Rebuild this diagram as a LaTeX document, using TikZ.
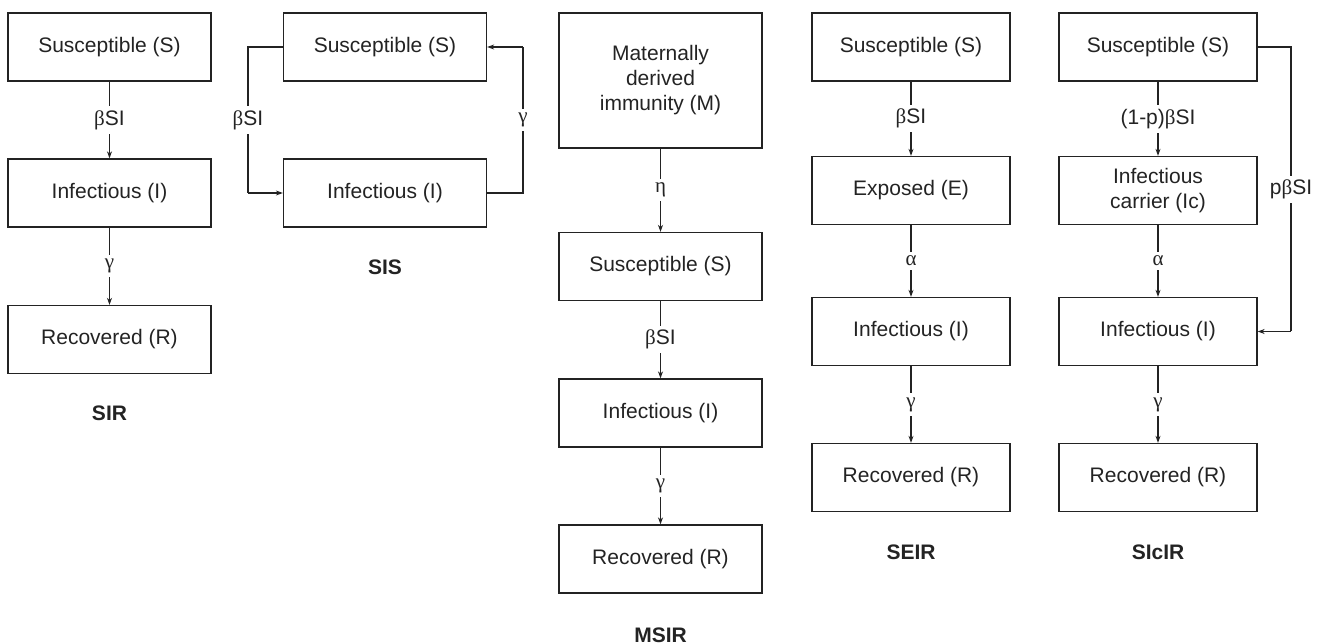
\documentclass[tikz,border=0pt]{standalone}
\usepackage{fontspec}
\setmainfont{Liberation Sans}
\newfontfamily\gkfont{Liberation Serif}
\usetikzlibrary{arrows.meta}
\newcommand{\gk}[1]{{\gkfont #1}}
\definecolor{ink}{RGB}{35,35,35}
\tikzset{
  x=1pt, y=-1pt,
  comp/.style={draw=ink, line width=1.3pt, text=ink, minimum height=68pt,
    minimum width=203pt, align=center, inner sep=0pt,
    font=\fontsize{21}{25}\selectfont},
  compn/.style={comp, minimum width=198pt},
  flow/.style={draw=ink, line width=1.05pt, -{Stealth[length=7pt,width=5pt]}},
  link/.style={draw=ink, line width=1.05pt},
  rate/.style={fill=white, text=ink, inner sep=4pt, font=\fontsize{21}{25}\selectfont},
  title/.style={text=ink, font=\fontsize{21}{25}\selectfont\bfseries},
}
\begin{document}
\begin{tikzpicture}
\useasboundingbox (0,0) rectangle (1336,644);

% SIR model
\node[comp] (sirS) at (109.5,47) {Susceptible (S)};
\node[comp] (sirI) at (109.5,193) {Infectious (I)};
\node[comp] (sirR) at (109.5,339.5) {Recovered (R)};
\draw[flow] (sirS) -- node[rate] {\gk{β}SI} (sirI);
\draw[flow] (sirI) -- node[rate] {\gk{γ}} (sirR);
\node[title] (sirT) at (109.5,413) {SIR};

% SIS model
\node[comp] (sisS) at (385,47) {Susceptible (S)};
\node[comp] (sisI) at (385,193) {Infectious (I)};
\coordinate (sisA) at (248,47);
\coordinate (sisB) at (248,193);
\coordinate (sisC) at (523,193);
\coordinate (sisD) at (523,47);
\draw[link] (sisS.west) -- (sisA) -- node[rate] {\gk{β}SI} (sisB);
\draw[flow] (sisB) -- (sisI.west);
\draw[link] (sisI.east) -- (sisC) -- node[rate] {\gk{γ}} (sisD);
\draw[flow] (sisD) -- (sisS.east);
\node[title] (sisT) at (385,267) {SIS};

% MSIR model
\node[comp, minimum height=135pt] (msM) at (660.5,80.5) {Maternally\\derived\\immunity (M)};
\node[comp] (msS) at (660.5,266.5) {Susceptible (S)};
\node[comp] (msI) at (660.5,413) {Infectious (I)};
\node[comp] (msR) at (660.5,559) {Recovered (R)};
\draw[flow] (msM) -- node[rate] {\gk{η}} (msS);
\draw[flow] (msS) -- node[rate] {\gk{β}SI} (msI);
\draw[flow] (msI) -- node[rate] {\gk{γ}} (msR);
\node[title] (msT) at (660.5,635) {MSIR};

% SEIR model
\node[compn] (seS) at (911,47) {Susceptible (S)};
\node[compn] (seE) at (911,190.5) {Exposed (E)};
\node[compn] (seI) at (911,331.5) {Infectious (I)};
\node[compn] (seR) at (911,477.5) {Recovered (R)};
\draw[flow] (seS) -- node[rate] {\gk{β}SI} (seE);
\draw[flow] (seE) -- node[rate] {\gk{α}} (seI);
\draw[flow] (seI) -- node[rate] {\gk{γ}} (seR);
\node[title] (seT) at (911,552) {SEIR};

% SIcIR model
\node[compn] (scS) at (1158,47) {Susceptible (S)};
\node[compn] (scC) at (1158,190.5) {Infectious\\carrier (Ic)};
\node[compn] (scI) at (1158,331.5) {Infectious (I)};
\node[compn] (scR) at (1158,477.5) {Recovered (R)};
\draw[flow] (scS) -- node[rate] {(1-p)\gk{β}SI} (scC);
\draw[flow] (scC) -- node[rate] {\gk{α}} (scI);
\draw[flow] (scI) -- node[rate] {\gk{γ}} (scR);
\coordinate (scA) at (1291,47);
\coordinate (scB) at (1291,331.5);
\draw[link] (scS.east) -- (scA) -- node[rate, inner xsep=1pt] {p\gk{β}SI} (scB);
\draw[flow] (scB) -- (scI.east);
\node[title] (scT) at (1158,552) {SIcIR};
\end{tikzpicture}
\end{document}
